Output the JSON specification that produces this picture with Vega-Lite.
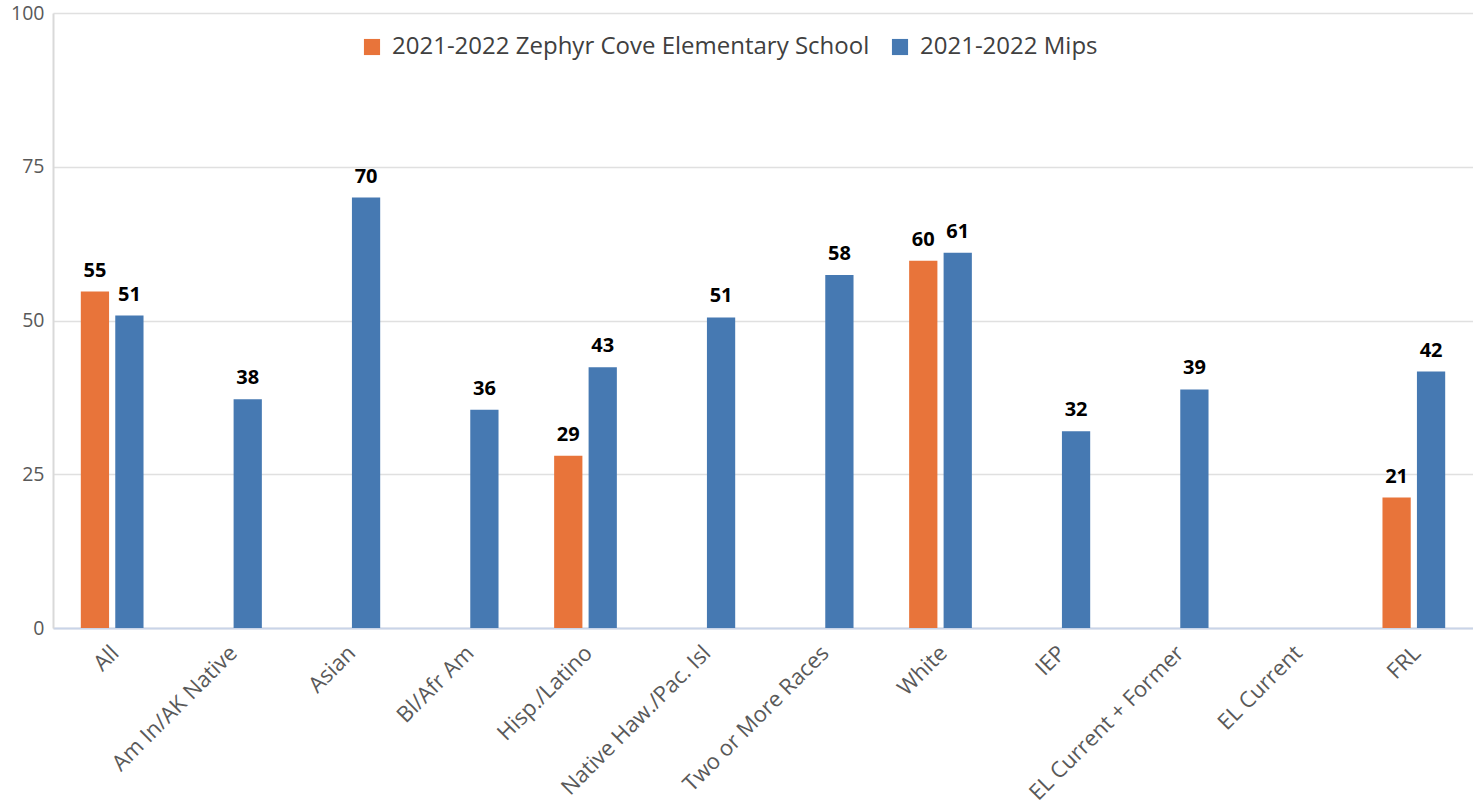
{
  "$schema": "https://vega.github.io/schema/vega-lite/v6.json",
  "width": 1420,
  "height": 615,
  "autosize": {"type": "none"},
  "padding": {"left": 53, "top": 13, "right": 0, "bottom": 177},
  "background": "white",
  "config": {
    "view": {"stroke": null},
    "font": "Open Sans"
  },
  "data": {
    "values": [
      {"group": "All", "series": "2021-2022 Zephyr Cove Elementary School", "value": 54.7, "label": "55"},
      {"group": "All", "series": "2021-2022 Mips", "value": 50.8, "label": "51"},
      {"group": "Am In/AK Native", "series": "2021-2022 Mips", "value": 37.2, "label": "38"},
      {"group": "Asian", "series": "2021-2022 Mips", "value": 70.0, "label": "70"},
      {"group": "Bl/Afr Am", "series": "2021-2022 Mips", "value": 35.5, "label": "36"},
      {"group": "Hisp./Latino", "series": "2021-2022 Zephyr Cove Elementary School", "value": 28.0, "label": "29"},
      {"group": "Hisp./Latino", "series": "2021-2022 Mips", "value": 42.4, "label": "43"},
      {"group": "Native Haw./Pac. Isl", "series": "2021-2022 Mips", "value": 50.5, "label": "51"},
      {"group": "Two or More Races", "series": "2021-2022 Mips", "value": 57.4, "label": "58"},
      {"group": "White", "series": "2021-2022 Zephyr Cove Elementary School", "value": 59.7, "label": "60"},
      {"group": "White", "series": "2021-2022 Mips", "value": 61.0, "label": "61"},
      {"group": "IEP", "series": "2021-2022 Mips", "value": 32.0, "label": "32"},
      {"group": "EL Current + Former", "series": "2021-2022 Mips", "value": 38.8, "label": "39"},
      {"group": "FRL", "series": "2021-2022 Zephyr Cove Elementary School", "value": 21.2, "label": "21"},
      {"group": "FRL", "series": "2021-2022 Mips", "value": 41.7, "label": "42"}
    ]
  },
  "encoding": {
    "x": {
      "field": "group",
      "type": "nominal",
      "sort": ["All", "Am In/AK Native", "Asian", "Bl/Afr Am", "Hisp./Latino", "Native Haw./Pac. Isl", "Two or More Races", "White", "IEP", "EL Current + Former", "EL Current", "FRL"],
      "scale": {
        "domain": ["All", "Am In/AK Native", "Asian", "Bl/Afr Am", "Hisp./Latino", "Native Haw./Pac. Isl", "Two or More Races", "White", "IEP", "EL Current + Former", "EL Current", "FRL"],
        "paddingInner": 0.47,
        "paddingOuter": 0.235
      },
      "axis": {
        "title": null,
        "labelAngle": -45,
        "labelFontSize": 22,
        "labelColor": "#595959",
        "labelFont": "Open Sans",
        "labelPadding": 14,
        "labelOffset": -4,
        "ticks": false,
        "domainColor": "#c9d4e8",
        "domainWidth": 2,
        "labelOverlap": false,
        "labelLimit": 400
      }
    },
    "xOffset": {
      "field": "series",
      "type": "nominal",
      "sort": ["2021-2022 Zephyr Cove Elementary School", "2021-2022 Mips"],
      "scale": {
        "domain": ["2021-2022 Zephyr Cove Elementary School", "2021-2022 Mips"],
        "paddingInner": 0.18,
        "paddingOuter": 0
      }
    }
  },
  "layer": [
    {
      "mark": {"type": "bar"},
      "encoding": {
        "y": {
          "field": "value",
          "type": "quantitative",
          "scale": {"domain": [0, 100], "nice": false},
          "axis": {
            "title": null,
            "values": [0, 25, 50, 75, 100],
            "labelFontSize": 19.5,
            "labelColor": "#595959",
            "labelFont": "Open Sans",
            "labelPadding": 9,
            "ticks": false,
            "domain": true,
            "domainColor": "#d9d9d9",
            "domainWidth": 2,
            "gridColor": "#e0e0e0",
            "gridWidth": 1.5
          }
        },
        "color": {
          "field": "series",
          "type": "nominal",
          "sort": ["2021-2022 Zephyr Cove Elementary School", "2021-2022 Mips"],
          "scale": {
            "domain": ["2021-2022 Zephyr Cove Elementary School", "2021-2022 Mips"],
            "range": ["#E8743A", "#4679B2"]
          },
          "legend": {
            "title": null,
            "orient": "none",
            "legendX": 307,
            "legendY": 22,
            "direction": "horizontal",
            "symbolType": "square",
            "symbolSize": 260,
            "symbolStrokeWidth": 0,
            "labelFontSize": 24,
            "labelFont": "Open Sans",
            "labelColor": "#404040",
            "columnPadding": 18,
            "labelOffset": 8,
            "labelLimit": 700
          }
        }
      }
    },
    {
      "mark": {"type": "text", "baseline": "bottom", "dy": -11, "fontSize": 20, "fontWeight": "bold", "font": "Open Sans", "color": "#000000"},
      "encoding": {
        "y": {"field": "value", "type": "quantitative"},
        "text": {"field": "label"}
      }
    }
  ]
}
